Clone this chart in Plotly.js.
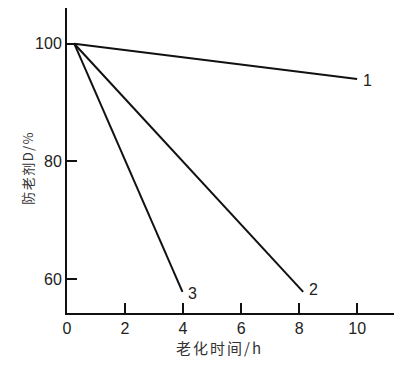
<!DOCTYPE html>
<html><head><meta charset="utf-8">
<script src="https://cdn.plot.ly/plotly-3.0.1.min.js"></script>
<style>html,body{margin:0;padding:0;background:#fff}#chart{width:400px;height:370px}</style>
</head><body><div id="chart"></div>
<script>
const seriesNames = ["1", "2", "3"];
const series1X = [0.25, 10.0];
const series1Y = [100.0, 94.0];
const series2X = [0.25, 8.14];
const series2Y = [100.0, 57.8];
const series3X = [0.25, 3.98];
const series3Y = [100.0, 57.8];
const labelX = [10.37, 8.48, 4.32];
const labelY = [93.8, 58.2, 57.6];
const xTicks = [0, 2, 4, 6, 8, 10];
const yTicks = [60, 80, 100];
const xTitle = "老化时间/h";
const yTitle = "防老剂D/%";

const xs = [series1X, series2X, series3X];
const ys = [series1Y, series2Y, series3Y];
const traces = xs.map((x, i) => ({
  x: x, y: ys[i], mode: "lines", name: seriesNames[i],
  line: {color: "#111", width: 2}, showlegend: false, hoverinfo: "skip"
}));
const font = {family: "Liberation Sans, Arial, sans-serif", size: 16, color: "#222"};
const cjk = {family: "Noto Sans CJK SC, Liberation Sans, sans-serif", color: "#333"};
const annotations = seriesNames.map((t, i) => ({
  x: labelX[i], y: labelY[i], xref: "x", yref: "y", text: t, showarrow: false,
  font: font, xanchor: "center", yanchor: "middle"
}));
annotations.push({
  x: 219.5, y: 370 - 348, xref: "paper", yref: "paper", text: xTitle, showarrow: false,
  font: Object.assign({size: 15}, cjk), xanchor: "center", yanchor: "middle"
});
annotations.push({
  x: 27.7, y: 370 - 168, xref: "paper", yref: "paper", text: yTitle, showarrow: false,
  textangle: -90, font: Object.assign({size: 13}, cjk), xanchor: "center", yanchor: "middle"
});
// convert pixel positions to paper fractions
const L = 66.5, R = 5.5, T = 8, B = 56.7;
const pw = 400 - L - R, ph = 370 - T - B;
for (let k = 3; k < 5; k++) {
  annotations[k].x = (annotations[k].x - L) / pw;
  annotations[k].y = (annotations[k].y - B) / ph;
}
const layout = {
  width: 400, height: 370,
  margin: {l: L, r: R, t: T, b: B},
  paper_bgcolor: "#fff", plot_bgcolor: "#fff",
  showlegend: false,
  font: font,
  xaxis: {
    range: [0, 11.27], tickvals: xTicks, ticktext: xTicks.map(String),
    showgrid: false, zeroline: false, showline: true, linecolor: "#111", linewidth: 2,
    ticks: "inside", ticklen: 10, tickwidth: 2, tickcolor: "#111",
    tickfont: font
  },
  yaxis: {
    range: [54.22, 106.07], tickvals: yTicks, ticktext: yTicks.map(String),
    showgrid: false, zeroline: false, showline: true, linecolor: "#111", linewidth: 2,
    ticks: "inside", ticklen: 10, tickwidth: 2, tickcolor: "#111",
    tickfont: font
  },
  annotations: annotations
};
Plotly.newPlot("chart", traces, layout, {staticPlot: true, displayModeBar: false}).then(() => {
  const texts = document.querySelectorAll(".annotation-text");
  if (texts[3]) texts[3].style.letterSpacing = "2px";
  if (texts[4]) texts[4].style.letterSpacing = "1.5px";
});
</script></body></html>
